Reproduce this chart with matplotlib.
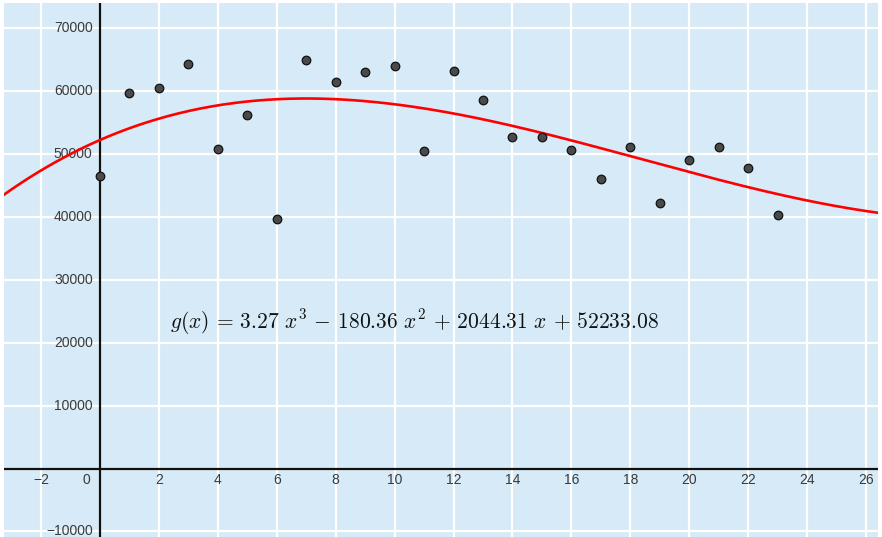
import numpy as np
import matplotlib.pyplot as plt

# yearly observations and cubic regression fit
x_vals = list(range(24))
y_vals = [46500, 59700, 60500, 64300, 50800, 56200, 39700, 64900,
          61500, 63000, 64000, 50500, 63150, 58600, 52650, 52650,
          50600, 46100, 51070, 42160, 49050, 51070, 47820, 40300]
coeffs = [3.27, -180.36, 2044.31, 52233.08]

x_ticks = [-2, 0, 2, 4, 6, 8, 10, 12, 14, 16, 18, 20, 22, 24, 26]
y_ticks = [-10000, 10000, 20000, 30000, 40000, 50000, 60000, 70000]

plt.rcParams["mathtext.fontset"] = "cm"

fig = plt.figure(figsize=(8.82, 5.37), dpi=100)
ax = fig.add_axes([4 / 882, 0, 874 / 882, 534 / 537])
ax.set_facecolor("#d6ebf7")
ax.set_xlim(-3.26, 26.41)
ax.set_ylim(-10890, 74010)

for xt in np.arange(-2, 27, 2):
    ax.axvline(xt, color="white", lw=1.6, zorder=1)
for yt in np.arange(-10000, 74000, 10000):
    ax.axhline(yt, color="white", lw=1.6, zorder=1)

ax.axhline(0, color="#111111", lw=1.6, zorder=2)
ax.axvline(0, color="#111111", lw=1.6, zorder=2)

label_col = "#3a3a3a"
for xt in x_ticks:
    if xt == 0:
        ax.text(-0.45, -1900, "0", ha="center", va="center", fontsize=10,
                color=label_col, family="Liberation Sans", zorder=3)
    else:
        ax.text(xt, -1900, f"{xt}".replace("-", "\u2212"), ha="center",
                va="center", fontsize=10, color=label_col,
                family="Liberation Sans", zorder=3)
for yt in y_ticks:
    ax.text(-0.25, yt, f"{yt}".replace("-", "\u2212"), ha="right",
            va="center", fontsize=10, color=label_col,
            family="Liberation Sans", zorder=3)

xs = np.linspace(-3.3, 26.5, 400)
ax.plot(xs, np.polyval(coeffs, xs), color="#ff0000", lw=1.9, zorder=4)
ax.scatter(x_vals, y_vals, s=38, color="#4a4a4a", edgecolor="#111111",
           linewidths=0.9, zorder=5)

ax.text(2.38, 23300,
        r"$g(x)\,=\,3.27\ x^3\,-\,180.36\ x^2\,+\,2044.31\ x\,+\,52233.08$",
        fontsize=15.5, color="#111111", va="center", ha="left", zorder=6)

ax.set_xticks([])
ax.set_yticks([])
for s in ax.spines.values():
    s.set_visible(False)

fig.savefig("out.png", dpi=100, facecolor="white")
